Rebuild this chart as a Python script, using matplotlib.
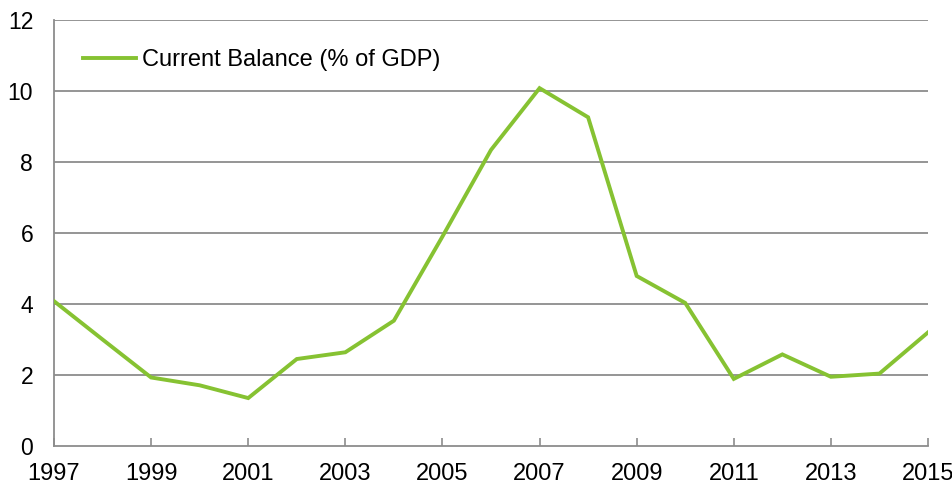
import matplotlib
matplotlib.use("Agg")
import matplotlib.pyplot as plt

# Current account balance, % of GDP
years = [1997, 1998, 1999, 2000, 2001, 2002, 2003, 2004, 2005, 2006,
         2007, 2008, 2009, 2010, 2011, 2012, 2013, 2014, 2015]
balance = [4.08, 3.00, 1.93, 1.71, 1.35, 2.45, 2.64, 3.53, 5.90, 8.34,
           10.08, 9.26, 4.79, 4.03, 1.89, 2.58, 1.95, 2.04, 3.20]
x_ticks = list(range(1997, 2016, 2))
y_ticks = [0, 2, 4, 6, 8, 10, 12]
series_label = "Current Balance (% of GDP)"

plt.rcParams["font.family"] = ["Liberation Sans", "DejaVu Sans"]

fig = plt.figure(figsize=(9.53, 4.86), dpi=100)
W, H = 953, 486
ax = fig.add_axes([54 / W, 1 - 446 / H, (928 - 54) / W, (446 - 20) / H])

grid_color = "#8c8c8c"
ax.plot(years, balance, color="#86c232", linewidth=2.8,
        solid_joinstyle="miter", label=series_label, zorder=3)

ax.set_xlim(1997, 2015)
ax.set_ylim(0, 12)
ax.set_xticks(x_ticks)
ax.set_yticks(y_ticks)
ax.tick_params(axis="x", direction="in", length=6, width=1.2,
               color=grid_color, labelsize=17, pad=12.5)
ax.tick_params(axis="y", direction="in", length=0, labelsize=16.5, pad=15)

for v in y_ticks[1:]:
    ax.axhline(v, color=grid_color, linewidth=1.3, zorder=1)

for side in ("top", "right"):
    ax.spines[side].set_visible(False)
for side in ("left", "bottom"):
    ax.spines[side].set_color(grid_color)
    ax.spines[side].set_linewidth(1.3)

ax.legend(loc="upper left", frameon=False, fontsize=17,
          handlelength=2.25, handletextpad=0.24,
          bbox_to_anchor=(0.0143, 0.9706), borderaxespad=0.3)

fig.savefig("out.png", dpi=100)
